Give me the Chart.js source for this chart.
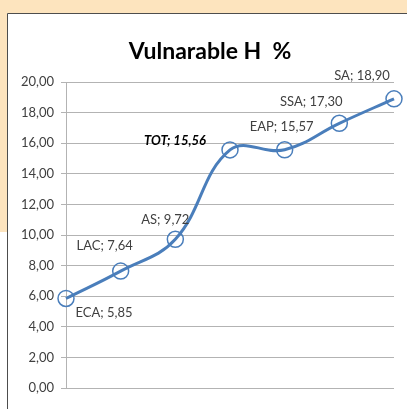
<!DOCTYPE html>
<html>
<head>
<meta charset="utf-8">
<script src="https://cdn.jsdelivr.net/npm/chart.js@4"></script>
<style>
  html, body { margin: 0; padding: 0; background: #fff; }
  #wrap { width: 407px; height: 409px; position: relative; }
</style>
</head>
<body>
<div id="wrap"><canvas id="chart" width="407" height="409"></canvas></div>
<script>
var titleText = "Vulnarable H  %";
var regions = ["ECA", "LAC", "AS", "TOT", "EAP", "SSA", "SA"];
var vulnerable = [5.85, 7.64, 9.72, 15.56, 15.57, 17.30, 18.90];
var yTicks = [0, 2, 4, 6, 8, 10, 12, 14, 16, 18, 20];

// where each data label sits, relative to its point
var labelOffsets = [[38, 14], [-16, -25], [-10, -19], [-55, -9], [-3, -23], [-28, -21], [-32, -23]];

function fmt(v) {
    return v.toFixed(2).replace(".", ",");
}

var frame = {
    id: "frame",
    beforeDraw: function(chart) {
        var ctx = chart.ctx;
        ctx.save();
        ctx.fillStyle = "#ffffff";
        ctx.fillRect(0, 0, 407, 409);
        ctx.fillStyle = "#fde4be";
        ctx.fillRect(0, 0, 407, 13);
        ctx.fillRect(0, 0, 7, 232);
        ctx.strokeStyle = "#4d4d4d";
        ctx.lineWidth = 1;
        ctx.beginPath();
        ctx.moveTo(7.5, 409);
        ctx.lineTo(7.5, 13.5);
        ctx.lineTo(407, 13.5);
        ctx.stroke();
        // title, centred on the frame rather than the canvas
        ctx.fillStyle = "#000000";
        ctx.font = "bold 23px Lato";
        ctx.textAlign = "center";
        ctx.textBaseline = "middle";
        ctx.fillText(titleText, 210, 52);
        ctx.restore();
    }
};

var dataLabels = {
    id: "dataLabels",
    afterDatasetsDraw: function(chart) {
        var ctx = chart.ctx;
        var meta = chart.getDatasetMeta(0);
        ctx.save();
        ctx.textAlign = "center";
        ctx.textBaseline = "middle";
        meta.data.forEach(function(pt, i) {
            var txt = regions[i] + "; " + fmt(vulnerable[i]);
            if (regions[i] == "TOT") {
                ctx.font = "italic bold 13px Lato";
                ctx.fillStyle = "#000000";
            } else {
                ctx.font = "13px Lato";
                ctx.fillStyle = "#404040";
            }
            ctx.fillText(txt, pt.x + labelOffsets[i][0], pt.y + labelOffsets[i][1]);
        });
        ctx.restore();
    }
};

new Chart(document.getElementById("chart"), {
    type: "line",
    data: {
        labels: regions,
        datasets: [{
            label: titleText,
            data: vulnerable,
            borderColor: "#4a7ebb",
            borderWidth: 3,
            tension: 0.4,
            pointRadius: 8,
            pointHoverRadius: 8,
            pointBorderWidth: 1.5,
            pointBorderColor: "#4a7ebb",
            pointBackgroundColor: "rgba(255,255,255,0)",
            clip: false
        }]
    },
    options: {
        responsive: false,
        animation: false,
        events: [],
        layout: { padding: { left: 0, right: 13, top: 82, bottom: 21 } },
        plugins: {
            legend: { display: false },
            tooltip: { enabled: false },
            title: { display: false }
        },
        scales: {
            x: {
                offset: false,
                ticks: { display: false },
                grid: { display: false, drawTicks: false },
                border: { display: false }
            },
            y: {
                min: 0,
                max: 20,
                afterBuildTicks: function(axis) {
                    axis.ticks = yTicks.map(function(v) { return { value: v }; });
                },
                afterFit: function(axis) {
                    axis.width = 66;
                },
                ticks: {
                    color: "#404040",
                    font: { family: "Lato", size: 13 },
                    padding: 7,
                    callback: function(v) { return fmt(v); }
                },
                grid: { color: "#b3b3b3", tickLength: 5 },
                border: { color: "#b3b3b3" }
            }
        }
    },
    plugins: [frame, dataLabels]
});
</script>
</body>
</html>
